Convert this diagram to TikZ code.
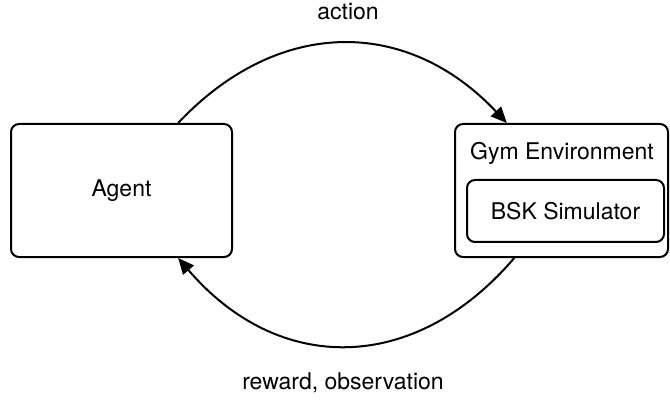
\documentclass[tikz,border=0pt]{standalone}
\usepackage{fontspec}
\setmainfont{TeX Gyre Heros}
\usetikzlibrary{arrows.meta}
\begin{document}
\begin{tikzpicture}[x=0.5pt,y=-0.5pt,
    font=\fontsize{11.5}{14}\selectfont,
    box/.style={draw, line width=1pt, rounded corners=4pt, align=center},
    flow/.style={line width=1pt, -{Triangle[length=8pt,width=7pt]}}]
  \useasboundingbox (0,0) rectangle (670,401);
  % agent and environment
  \node[box, minimum width=110.5pt, minimum height=66.5pt] (agent) at (121.5,190.5) {Agent};
  \node[box, minimum width=106.5pt, minimum height=66.5pt] (gym) at (561.5,190.5) {};
  \node (gymlabel) at (562,153) {Gym Environment};
  \node[box, minimum width=98.5pt, minimum height=31pt] (bsk) at (565.5,211) {BSK Simulator};
  % loop
  \node (action) at (348,12) {action};
  \node (reward) at (343,383) {reward, observation};
  \draw[flow] (agent.50) .. controls +(100,-106) and +(-100,-106) .. (gym.129);
  \draw[flow] (gym.235) .. controls +(-100,117) and +(100,117) .. (agent.310);
\end{tikzpicture}
\end{document}
